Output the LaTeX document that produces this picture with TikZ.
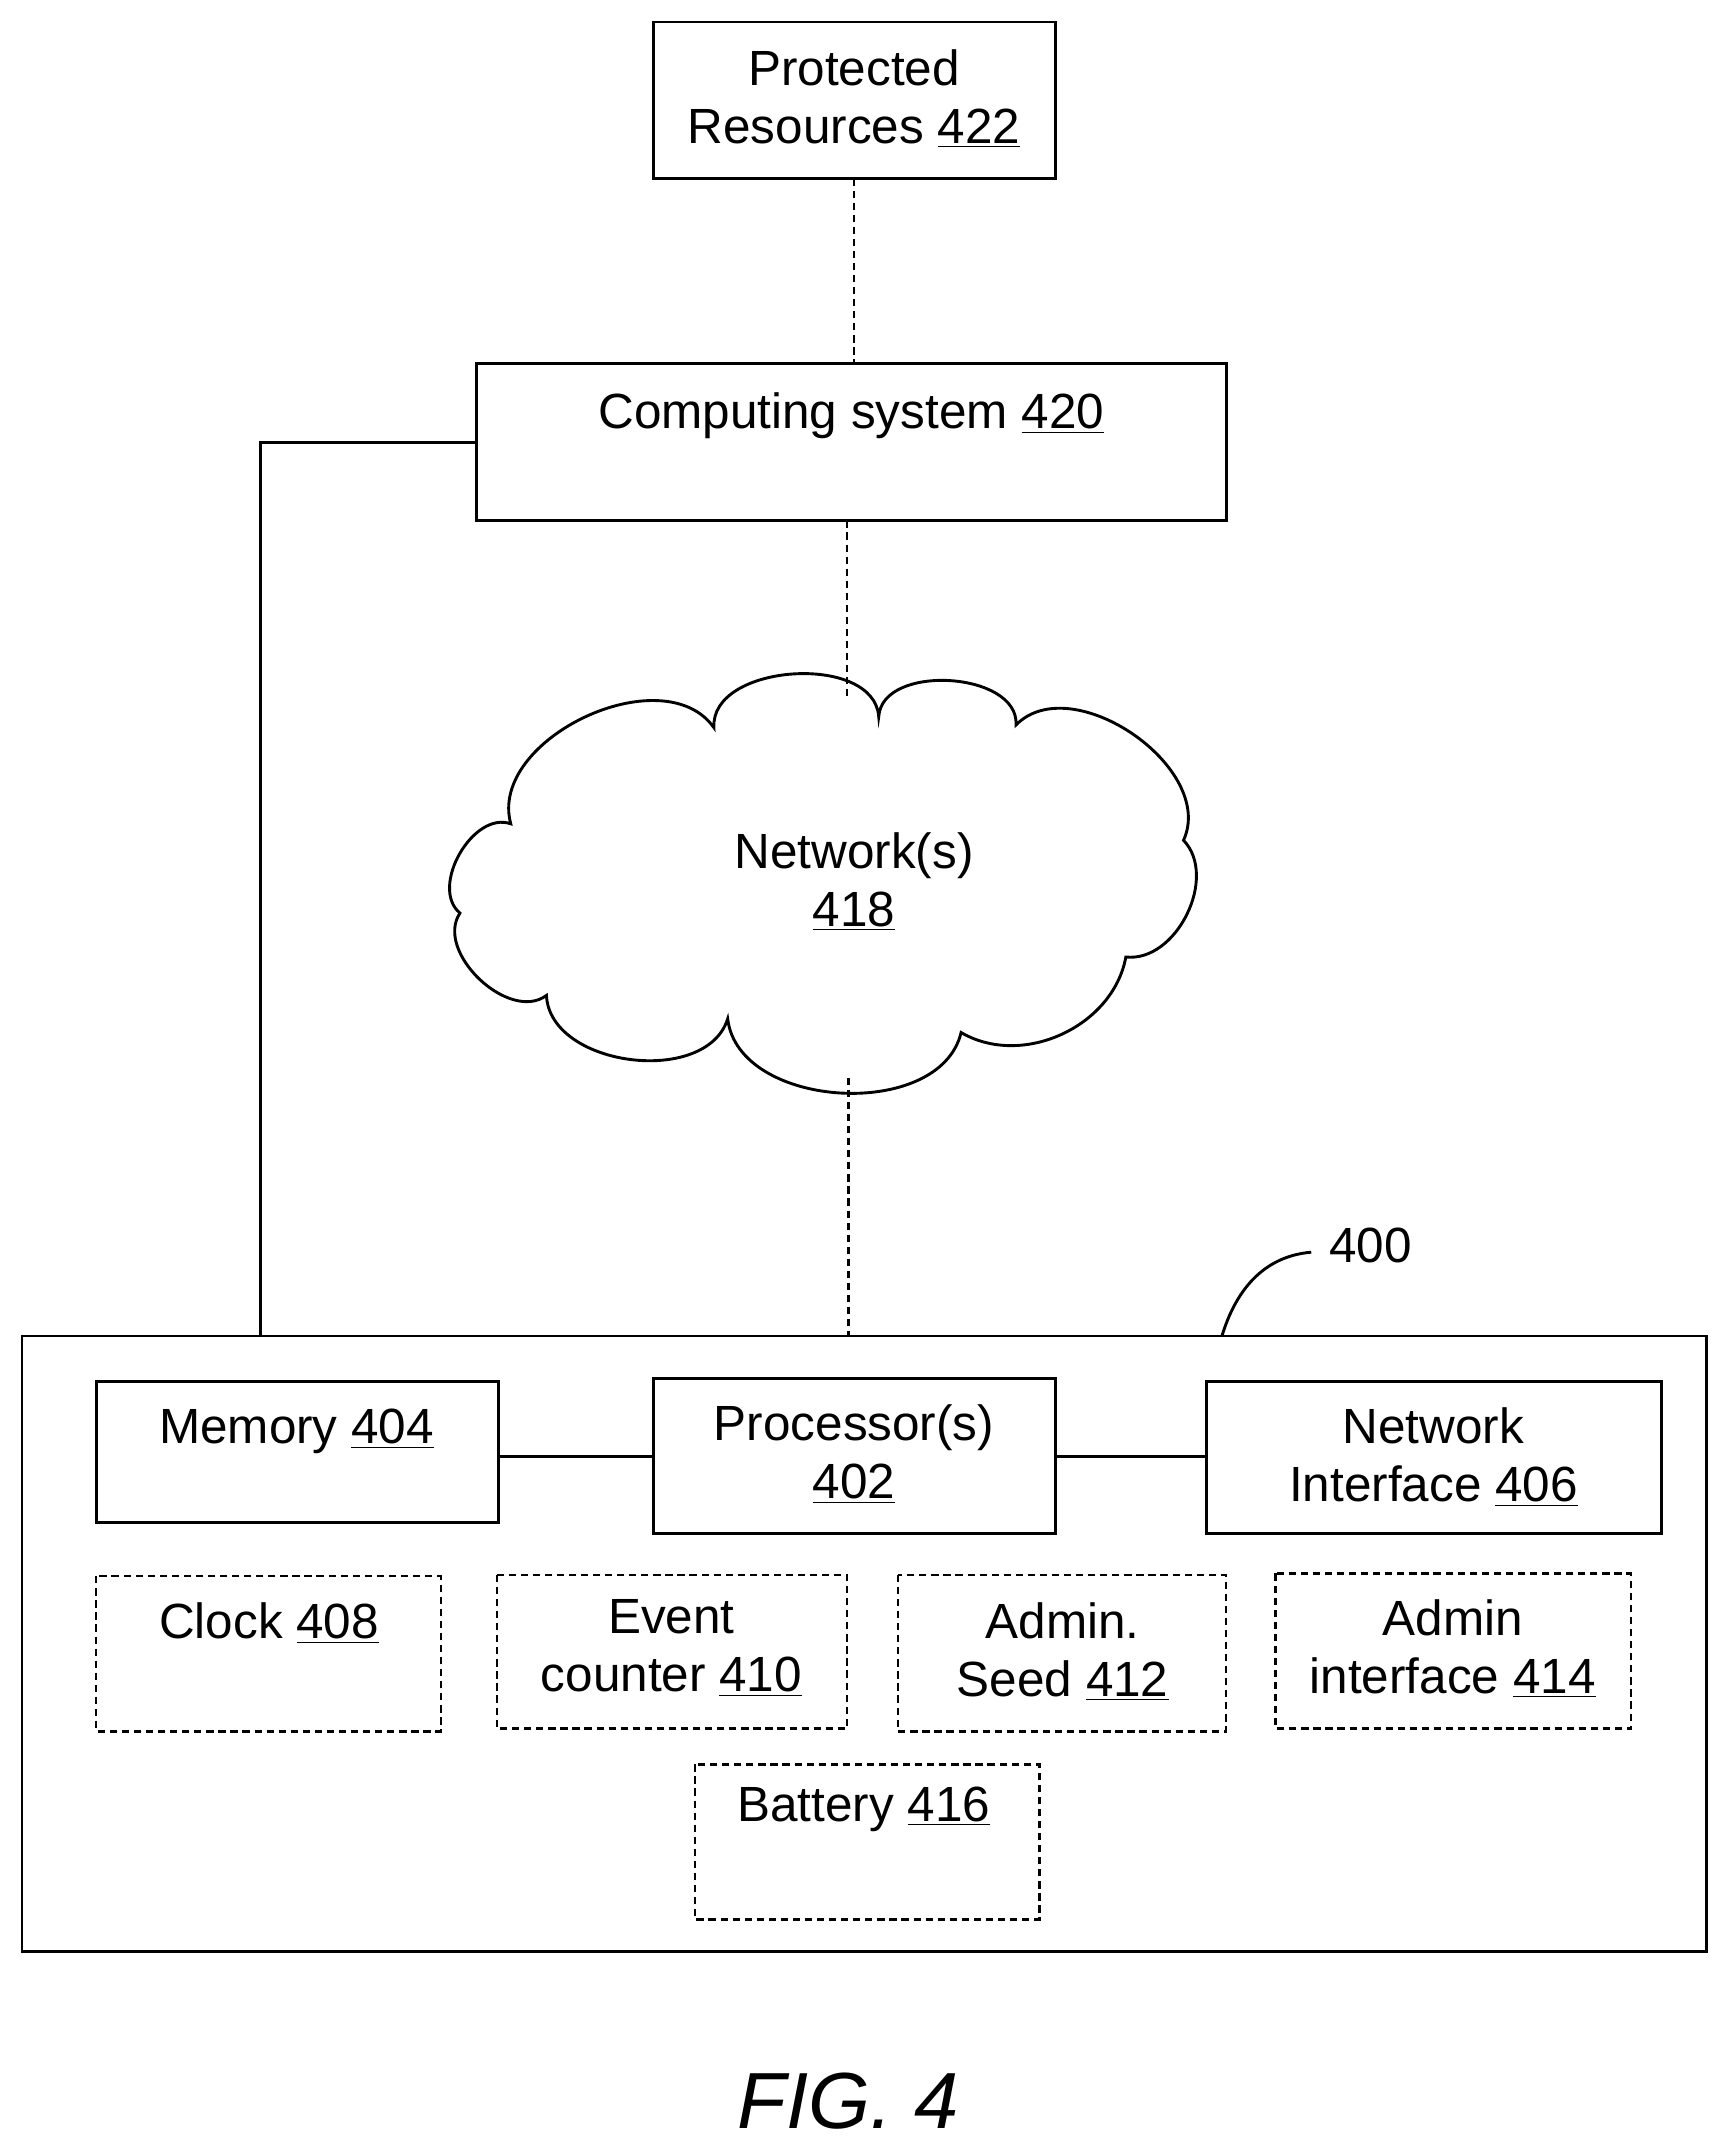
\documentclass[tikz,border=0pt]{standalone}
\usepackage{fontspec}
\setmainfont{Liberation Sans}
\newcommand{\ul}[1]{\underline{#1}}
\begin{document}
\begin{tikzpicture}[x=0.02cm,y=-0.02cm,
 box/.style={draw,line width=1.2pt},
 dbox/.style={draw,line width=1pt,dash pattern=on 3pt off 2pt},
 lbl/.style={font=\fontsize{20.5}{24}\selectfont,align=center,anchor=north},
 dl/.style={line width=1pt,dash pattern=on 3pt off 2pt},
 sl/.style={line width=1.2pt}]
\useasboundingbox (0,0) rectangle (1255,1563);
% boxes
\draw[box] (476,16) rectangle (769,130); \node[lbl] (t422) at (622,30) {Protected\\Resources \ul{422}};
\coordinate (b422) at (622,130);
\draw[box] (347,265) rectangle (893,379); \node[lbl] (t420) at (620,280) {Computing system \ul{420}};
\coordinate (t420c) at (622,265); \coordinate (b420) at (617,379); \coordinate (l420) at (347,322);
\draw[box] (16,973) rectangle (1243,1421);
\coordinate (dev) at (618,973); \coordinate (devl) at (190,973);
\draw[box] (70,1006) rectangle (363,1109); \node[lbl] (t404) at (216,1020) {Memory \ul{404}};
\draw[box] (476,1004) rectangle (769,1117); \node[lbl] (t402) at (622,1017) {Processor(s)\\\ul{402}};
\draw[box] (879,1006) rectangle (1210,1117); \node[lbl] (t406) at (1044,1019) {Network\\Interface \ul{406}};
\draw[sl] (363,1061) -- (476,1061); \draw[sl] (769,1061) -- (879,1061);
\draw[dbox] (70,1148) rectangle (321,1261); \node[lbl] (t408) at (196,1161) {Clock \ul{408}};
\draw[dbox] (362,1147) rectangle (617,1259); \node[lbl] (t410) at (489,1159) {Event\\counter \ul{410}};
\draw[dbox] (654,1147) rectangle (893,1261); \node[lbl] (t412) at (774,1161) {Admin.\\Seed \ul{412}};
\draw[dbox] (929,1146) rectangle (1188,1259); \node[lbl] (t414) at (1058,1159) {Admin\\interface \ul{414}};
\draw[dbox] (506,1285) rectangle (757,1398); \node[lbl] (t416) at (629,1295) {Battery \ul{416}};
% cloud
\draw[sl] (372,600) to[bend left=80] (520,530) to[bend left=90] (640,522) to[bend left=90] (740,528)
 to[bend left=80] (862,612) to[bend left=70] (820,697) to[bend left=55] (700,752)
 to[bend left=80] (530,742) to[bend left=80] (398,725) to[bend left=80] (335,665) to[bend left=80] cycle;
\node[lbl] (t418) at (622,600) {Network(s)\\\ul{418}};
\coordinate (ct) at (617,510); \coordinate (cb) at (618,785);
% connectors
\draw[dl] (b422) -- (t420c);
\draw[dl] (b420) -- (ct);
\draw[dl] (cb) -- (dev);
\draw[sl] (l420) -- (190,322) -- (devl);
% 400
\coordinate (p400) at (890,973);
\draw[sl] (p400) .. controls (900,940) and (920,915) .. (955,912);
\node[font=\fontsize{20.5}{24}\selectfont,anchor=west] (t400) at (962,907) {400};
\node[font=\fontsize{33}{38}\selectfont\itshape] (fig) at (618,1530) {FIG. 4};
\end{tikzpicture}
\end{document}
